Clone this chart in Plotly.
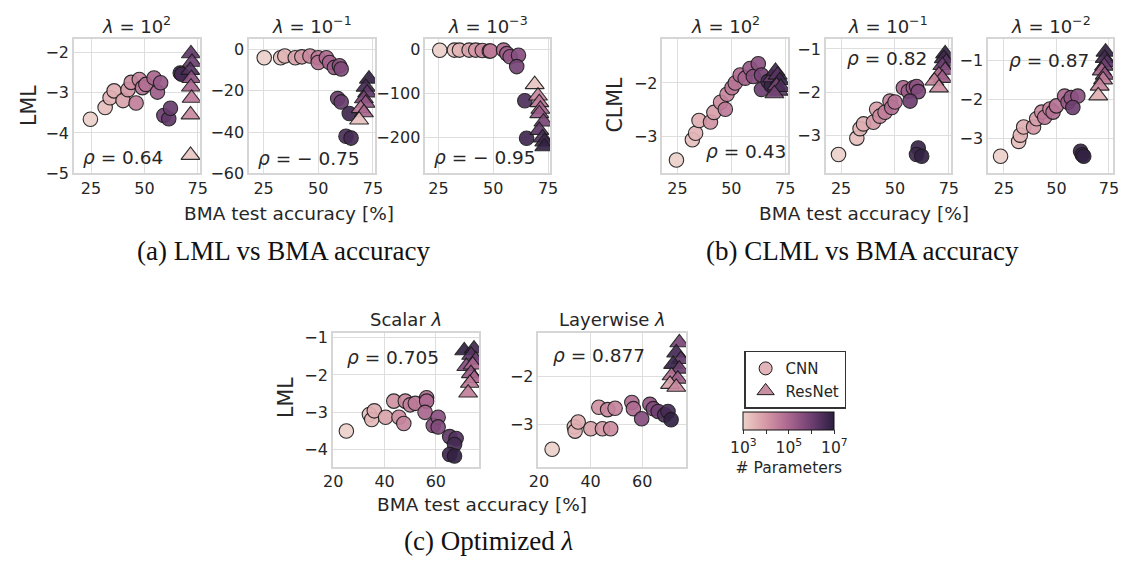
import numpy as np
import plotly.graph_objects as go

# ---------------------------------------------------------------------------
# Data: each row is (BMA test accuracy [%], marginal-likelihood value, log10 #params)
# ---------------------------------------------------------------------------
# (a) LML, lambda = 1e2
A1_CNN = [(24.7, -3.66, 3.0), (31.6, -3.37, 3.3), (33.9, -3.13, 3.5), (35.8, -2.96, 3.6),
          (40.0, -3.20, 3.8), (42.3, -2.93, 4.0), (43.8, -2.75, 4.2), (46.1, -3.26, 4.5),
          (47.6, -2.68, 4.4), (49.1, -2.88, 4.7), (50.7, -2.80, 4.8), (54.5, -2.64, 5.0),
          (56.1, -2.99, 5.2), (57.6, -2.76, 5.3), (59.1, -3.57, 6.0), (61.4, -3.65, 6.2),
          (62.2, -3.39, 6.1), (66.8, -2.52, 6.8), (67.5, -2.55, 6.6)]
A1_RES = [(71.8, -2.04, 6.2), (72.3, -2.25, 6.0), (71.5, -2.45, 6.4), (72.0, -2.65, 5.5),
          (71.8, -2.86, 5.0), (72.1, -3.14, 4.6), (71.6, -3.55, 4.3), (71.6, -4.55, 3.2)]
# (a) LML, lambda = 1e-1
A2_CNN = [(25.3, -4.0, 3.0), (32.8, -4.0, 3.3), (34.7, -3.2, 3.5), (39.5, -4.0, 3.8),
          (42.5, -3.6, 4.0), (46.2, -3.2, 4.3), (50.0, -4.0, 4.6), (50.0, -6.3, 4.7),
          (53.7, -4.0, 4.9), (55.2, -6.3, 5.1), (57.4, -8.7, 5.3), (59.7, -7.9, 5.5),
          (60.5, -9.5, 5.7), (58.9, -23.8, 6.0), (60.5, -25.4, 6.1), (64.2, -31.0, 6.7),
          (62.7, -42.0, 6.5), (65.0, -42.9, 6.6)]
A2_RES = [(73.2, -14.3, 6.9), (71.7, -18.2, 6.6), (72.4, -21.0, 6.2), (70.9, -23.8, 5.8),
          (71.7, -26.0, 5.4), (69.4, -28.6, 4.6), (70.9, -30.6, 5.0), (68.7, -34.1, 3.3)]
# (a) LML, lambda = 1e-3
A3_CNN = [(25.6, -1.5, 3.0), (32.3, -1.0, 3.3), (34.6, -1.0, 3.5), (39.0, -1.0, 3.8),
          (42.0, -1.0, 4.0), (45.0, -2.0, 4.3), (48.2, -3.0, 4.5), (48.7, -3.0, 4.6),
          (54.7, -1.0, 4.9), (56.2, -9.0, 5.2), (57.7, -16.0, 5.4), (61.5, -12.6, 5.6),
          (60.7, -38.5, 5.9), (64.4, -116.0, 6.5), (65.2, -201.0, 6.7)]
A3_RES = [(68.9, -79, 3.2), (70.4, -105, 4.3), (71.0, -120, 4.6), (71.5, -135, 5.0),
          (71.0, -145, 5.3), (72.9, -164, 5.8), (71.0, -183, 6.2), (72.5, -200, 6.5),
          (73.3, -209, 6.7), (73.3, -220, 6.9)]
# (b) CLML, lambda = 1e2
B1_CNN = [(24.5, -3.44, 3.0), (31.9, -3.06, 3.3), (33.4, -2.94, 3.5), (35.0, -2.70, 3.6),
          (40.3, -2.73, 4.1), (41.9, -2.55, 3.9), (45.0, -2.36, 4.2), (47.2, -2.49, 4.6),
          (48.0, -2.21, 4.4), (50.3, -2.09, 4.6), (51.8, -2.00, 4.7), (54.1, -1.85, 4.9),
          (56.4, -1.91, 5.1), (58.7, -1.73, 5.3), (60.2, -1.88, 5.6), (62.5, -1.64, 5.5),
          (64.0, -1.85, 5.9), (64.0, -2.12, 6.0), (67.1, -1.97, 6.6), (68.6, -2.05, 6.8)]
B1_RES = [(69.0, -1.90, 6.0), (70.5, -1.78, 6.6), (71.5, -1.85, 6.3), (72.5, -1.95, 6.8),
          (71.0, -2.05, 5.8), (72.0, -2.15, 6.2), (73.0, -2.08, 6.5), (70.0, -2.20, 5.9)]
# (b) CLML, lambda = 1e-1
B2_CNN = [(23.8, -3.45, 3.0), (32.3, -3.07, 3.3), (33.8, -2.85, 3.5), (35.4, -2.74, 3.6),
          (40.0, -2.70, 4.0), (41.5, -2.40, 3.9), (43.0, -2.56, 4.2), (45.4, -2.47, 4.5),
          (47.7, -2.21, 4.4), (48.5, -2.36, 4.8), (50.0, -2.23, 4.7), (53.9, -1.90, 5.0),
          (56.2, -1.98, 5.2), (58.5, -1.90, 5.3), (60.0, -1.87, 5.5), (60.8, -1.99, 5.7),
          (57.0, -2.21, 6.0), (60.8, -3.30, 6.8), (60.0, -3.45, 6.7), (62.4, -3.49, 6.9)]
B2_RES = [(73.3, -1.11, 6.9), (72.7, -1.22, 6.6), (73.8, -1.30, 6.3), (72.0, -1.38, 6.0),
          (73.3, -1.49, 5.6), (70.4, -1.60, 4.8), (72.0, -1.68, 5.2), (68.3, -1.74, 4.4),
          (70.4, -1.90, 4.2)]
# (b) CLML, lambda = 1e-2
B3_CNN = [(23.4, -3.46, 3.0), (32.0, -3.08, 3.3), (32.8, -2.92, 3.5), (34.4, -2.71, 3.6),
          (39.1, -2.71, 4.0), (40.6, -2.50, 3.9), (43.0, -2.33, 4.2), (44.4, -2.46, 4.6),
          (46.9, -2.25, 4.4), (48.4, -2.33, 4.8), (50.0, -2.17, 4.7), (53.9, -1.92, 5.0),
          (55.5, -2.08, 5.3), (57.0, -1.96, 5.4), (60.2, -1.92, 5.5), (57.8, -2.21, 6.0),
          (61.5, -3.33, 6.8), (62.3, -3.42, 6.7), (63.0, -3.46, 6.9)]
B3_RES = [(73.4, -0.79, 6.9), (73.0, -0.95, 6.6), (74.1, -1.06, 6.3), (72.7, -1.15, 6.0),
          (71.6, -1.27, 5.0), (73.0, -1.38, 5.4), (72.2, -1.50, 4.6), (70.6, -1.66, 4.4),
          (69.9, -1.91, 3.6)]
# (c) LML with optimized scalar lambda
C1_CNN = [(25.1, -3.50, 3.0), (34.1, -3.06, 3.3), (35.0, -3.19, 3.4), (36.0, -2.96, 3.6),
          (40.4, -3.13, 3.8), (43.6, -2.70, 4.1), (45.6, -3.13, 4.2), (47.5, -3.30, 4.4),
          (48.1, -2.70, 4.3), (50.0, -2.80, 4.5), (52.0, -2.76, 4.6), (56.4, -2.61, 4.8),
          (56.4, -2.70, 4.9), (55.8, -3.00, 5.0), (59.0, -3.35, 5.6), (60.9, -3.13, 5.5),
          (60.9, -3.39, 5.7), (65.4, -3.65, 6.2), (67.9, -3.70, 6.4), (67.3, -3.86, 6.6),
          (65.4, -4.13, 6.7), (67.3, -4.17, 6.9)]
C1_RES = [(71.1, -1.35, 6.9), (74.9, -1.30, 6.7), (73.8, -1.47, 6.3), (75.6, -1.60, 6.0),
          (71.9, -1.77, 5.6), (74.4, -1.73, 5.0), (73.7, -1.96, 5.3), (75.0, -2.09, 5.0),
          (73.3, -2.22, 4.6), (72.6, -2.48, 4.5)]
# (c) LML with optimized layerwise lambda
C2_CNN = [(25.1, -3.52, 3.0), (33.7, -3.05, 3.3), (34.0, -3.14, 3.5), (35.2, -2.95, 3.6),
          (40.1, -3.09, 3.8), (43.2, -2.64, 4.1), (44.6, -3.09, 4.0), (46.6, -2.69, 4.3),
          (47.8, -3.09, 4.2), (49.5, -2.66, 4.4), (56.0, -2.54, 4.8), (56.6, -2.67, 4.9),
          (59.8, -2.88, 5.6), (63.0, -2.58, 5.4), (64.3, -2.67, 5.7), (66.2, -2.73, 6.0),
          (68.7, -2.80, 6.4), (70.0, -2.73, 6.6), (71.2, -2.90, 6.9)]
C2_RES = [(74.4, -1.29, 5.8), (73.2, -1.50, 6.6), (75.0, -1.64, 6.2), (72.0, -1.74, 6.8),
          (74.4, -1.84, 6.0), (71.4, -1.98, 4.8), (73.8, -2.05, 5.2), (70.8, -2.16, 3.8),
          (73.2, -2.22, 4.3)]

TITLES = ["<i>λ</i> = 10<sup>2</sup>", "<i>λ</i> = 10<sup>−1</sup>", "<i>λ</i> = 10<sup>−3</sup>",
          "<i>λ</i> = 10<sup>2</sup>", "<i>λ</i> = 10<sup>−1</sup>", "<i>λ</i> = 10<sup>−2</sup>",
          "Scalar <i>λ</i>", "Layerwise <i>λ</i>"]
RHO = ["0.64", "− 0.75", "− 0.95", "0.43", "0.82", "0.87", "0.705", "0.877"]
CAPTIONS = ["(a) LML vs BMA accuracy", "(b) CLML vs BMA accuracy", "(c) Optimized <i>λ</i>"]
CBAR_TICKS = [3, 4, 5, 6, 7]
CBAR_LABELS = ["10<sup>3</sup>", "\u2009", "10<sup>5</sup>", "\u2009", "10<sup>7</sup>"]

# ---------------------------------------------------------------------------
W, H = 1130, 569


def fx(p):
    return p / W


def fy(p):
    return 1 - p / H


def cubehelix(x, start=0.0, rot=0.4, gamma=1.0, hue=0.8):
    xg = x ** gamma
    a = hue * xg * (1 - xg) / 2
    phi = 2 * np.pi * (start / 3 + rot * x)
    r = xg + a * (-0.14861 * np.cos(phi) + 1.78277 * np.sin(phi))
    g = xg + a * (-0.29227 * np.cos(phi) - 0.90649 * np.sin(phi))
    b = xg + a * (1.97294 * np.cos(phi))
    return [int(round(255 * min(max(c, 0), 1))) for c in (r, g, b)]


stops = np.linspace(0, 1, 21)
COLORSCALE = [[float(s), "rgb({},{},{})".format(*cubehelix(0.85 - 0.70 * s))] for s in stops]

# panel geometry in pixels: (left, right, top, bottom)
PANELS = [
    dict(box=(65, 193, 35, 173), xr=(17, 76), yr=(-5.0, -1.68), xt=[25, 50, 75], yt=[-5, -4, -3, -2],
         cnn=A1_CNN, res=A1_RES, rho=(0.055, 0.116)),
    dict(box=(243, 371, 35, 173), xr=(18.4, 76), yr=(-60, 5), xt=[25, 50, 75], yt=[-60, -40, -20, 0],
         cnn=A2_CNN, res=A2_RES, rho=(0.055, 0.11)),
    dict(box=(422, 549, 35, 173), xr=(19, 76), yr=(-281, 24), xt=[25, 50, 75], yt=[-200, -100, 0],
         cnn=A3_CNN, res=A3_RES, rho=(0.05, 0.116)),
    dict(box=(663, 791, 35, 173), xr=(18, 76.5), yr=(-3.69, -1.18), xt=[25, 50, 75], yt=[-3, -2],
         cnn=B1_CNN, res=B1_RES, rho=(0.33, 0.167)),
    dict(box=(829, 956, 35, 173), xr=(17.9, 75.9), yr=(-3.89, -0.77), xt=[25, 50, 75], yt=[-3, -2, -1],
         cnn=B2_CNN, res=B2_RES, rho=(0.15, 0.855)),
    dict(box=(994, 1121, 35, 173), xr=(17.5, 77), yr=(-3.9, -0.46), xt=[25, 50, 75], yt=[-3, -2, -1],
         cnn=B3_CNN, res=B3_RES, rho=(0.15, 0.84)),
    dict(box=(328, 477, 337, 474), xr=(19.8, 77), yr=(-4.45, -0.88), xt=[20, 40, 60], yt=[-4, -3, -2, -1],
         cnn=C1_CNN, res=C1_RES, rho=(0.08, 0.82)),
    dict(box=(537, 687, 337, 474), xr=(19.8, 77), yr=(-3.88, -1.09), xt=[20, 40, 60], yt=[-3, -2],
         cnn=C2_CNN, res=C2_RES, rho=(0.087, 0.83)),
]

TEXT = "#262626"
EDGE = "#1c1c1c"
fig = go.Figure()
annotations = []
layout_axes = {}

for i, p in enumerate(PANELS, start=1):
    xa = "x" if i == 1 else f"x{i}"
    ya = "y" if i == 1 else f"y{i}"
    for rows, sym, size in ((p["cnn"], "circle", 14.5), (p["res"], "triangle-up", 16.5)):
        fig.add_trace(go.Scatter(
            x=[r[0] for r in rows], y=[r[1] for r in rows], mode="markers",
            xaxis=xa, yaxis=ya, showlegend=False, hoverinfo="skip",
            marker=dict(symbol=sym, size=size, color=[r[2] for r in rows],
                        coloraxis="coloraxis", opacity=0.92,
                        line=dict(color=EDGE, width=1.1)),
        ))
    l, r, t, b = p["box"]
    axis_common = dict(showgrid=True, gridcolor="#dedede", gridwidth=1.2, zeroline=False,
                       showline=True, linecolor="#d6d6d6", linewidth=1.5, mirror=True,
                       ticks="", tickfont=dict(size=16, color=TEXT))
    layout_axes["xaxis" if i == 1 else f"xaxis{i}"] = dict(
        domain=[fx(l), fx(r)], anchor=ya, range=list(p["xr"]), tickvals=p["xt"], **axis_common)
    layout_axes["yaxis" if i == 1 else f"yaxis{i}"] = dict(
        domain=[fy(b), fy(t)], anchor=xa, range=list(p["yr"]), tickvals=p["yt"], **axis_common)
    # panel title
    annotations.append(dict(text=TITLES[i - 1], x=fx((l + r) / 2), y=fy(t - 14), xref="paper",
                            yref="paper", xanchor="center", yanchor="middle", showarrow=False,
                            font=dict(size=18, color=TEXT)))
    # correlation label
    annotations.append(dict(text=f"<i>ρ</i> = {RHO[i - 1]}", x=p["rho"][0], y=p["rho"][1],
                            xref=f"{xa} domain", yref=f"{ya} domain", xanchor="left",
                            yanchor="middle", showarrow=False, font=dict(size=18.5, color=TEXT)))

# axis labels
for txt, x, y in (("LML", 20, 103), ("CLML", 615, 103), ("LML", 281, 403)):
    annotations.append(dict(text=txt, x=fx(x), y=fy(y), xref="paper", yref="paper", textangle=-90,
                            xanchor="center", yanchor="middle", showarrow=False,
                            font=dict(size=20.5, color=TEXT)))
for x, y in ((284, 214), (868, 214), (480, 513)):
    annotations.append(dict(text="BMA test accuracy [%]", x=fx(x), y=fy(y), xref="paper",
                            yref="paper", xanchor="center", yanchor="middle", showarrow=False,
                            font=dict(size=18.5, color=TEXT)))
# sub-figure captions
for txt, x, y in zip(CAPTIONS, (278, 866, 486), (253, 253, 550)):
    annotations.append(dict(text=txt, x=fx(x), y=fy(y), xref="paper", yref="paper",
                            xanchor="center", yanchor="middle", showarrow=False,
                            font=dict(size=27, family="Liberation Serif", color="#111111")))

# legend entries
for name, sym, col, size in (("CNN", "circle", "#e2b5ba", 13), ("ResNet", "triangle-up", "#c88fa3", 15)):
    fig.add_trace(go.Scatter(x=[None], y=[None], mode="markers", name=name,
                             marker=dict(symbol=sym, size=size, color=col,
                                         line=dict(color=EDGE, width=1))))

fig.update_layout(
    width=W, height=H, margin=dict(l=0, r=0, t=0, b=0),
    paper_bgcolor="white", plot_bgcolor="white",
    font=dict(family="DejaVu Sans", color=TEXT),
    annotations=annotations,
    showlegend=True,
    legend=dict(x=fx(746), y=fy(355), xanchor="left", yanchor="top", bgcolor="white",
                bordercolor="#333333", borderwidth=1.5, font=dict(size=15, color=TEXT),
                tracegroupgap=0, itemwidth=30),
    coloraxis=dict(
        colorscale=COLORSCALE, cmin=3, cmax=7,
        colorbar=dict(orientation="h", x=fx(791.5), xanchor="center", y=fy(418), yanchor="top",
                      len=91, lenmode="pixels", thickness=18, thicknessmode="pixels",
                      xpad=0, ypad=0, outlinecolor="#111111", outlinewidth=1,
                      tickvals=CBAR_TICKS, ticktext=CBAR_LABELS,
                      ticks="outside", ticklen=4, tickcolor="#333333",
                      tickfont=dict(size=15.5, color=TEXT),
                      title=dict(text="# Parameters", side="bottom",
                                 font=dict(size=15.5, color=TEXT))),
    ),
    **layout_axes,
)

fig.write_html("out.html")
